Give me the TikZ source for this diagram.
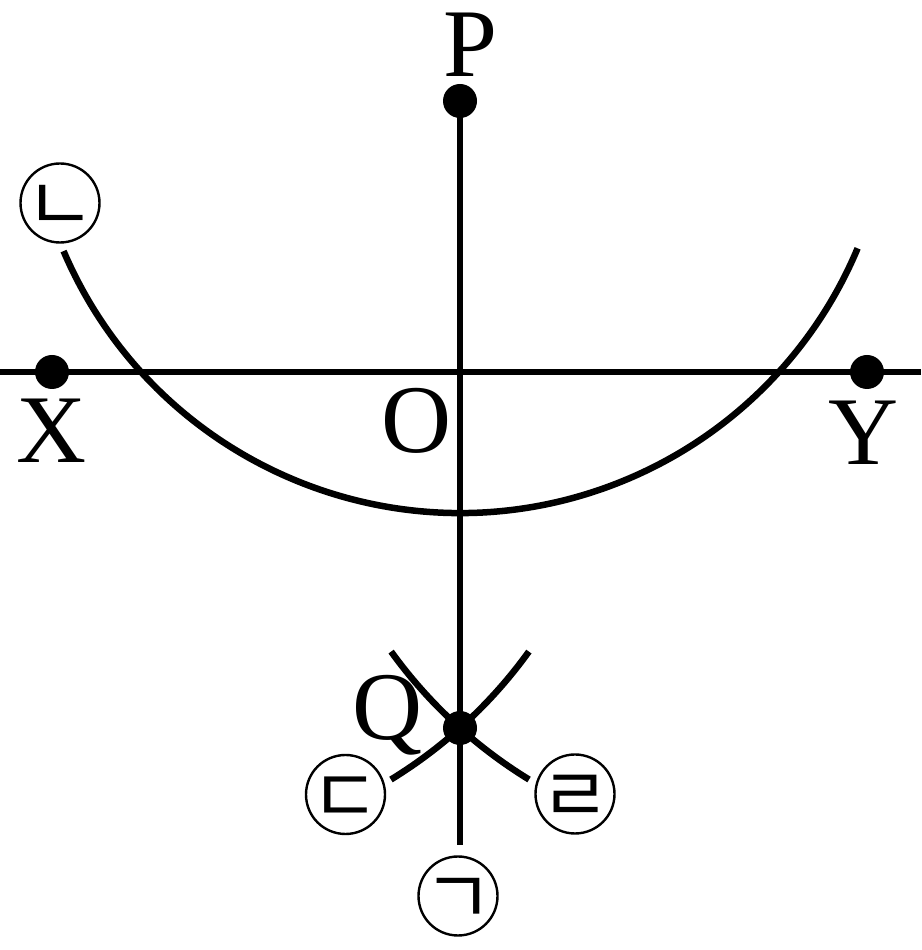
\documentclass[tikz,border=0pt]{standalone}
\usepackage{fontspec}
\setmainfont{Liberation Serif}
\newfontfamily\kor{Noto Sans CJK KR}
\usetikzlibrary{calc}
\newcommand{\jamo}[1]{\makebox[0pt]{\smash{\raisebox{-0.38em}{#1}}}}
\begin{document}
\begin{tikzpicture}[x=1pt,y=1pt,
  line/.style={line width=6.5pt},
  dot/.style={circle,fill=black,minimum size=34pt,inner sep=0pt},
  lbl/.style={anchor=base,inner sep=0pt,font=\fontsize{97}{97}\selectfont},
  circ/.style={circle,draw,line width=2.4pt,minimum size=79pt,inner sep=0pt,font=\kor\fontsize{76}{76}\selectfont}]
\useasboundingbox (0,0) rectangle (921,950);
% points
\coordinate (L) at (0,578);
\coordinate (R) at (921,578);
\coordinate (C) at (460,868);
\coordinate (A) at (141.2,578);
\coordinate (B) at (778.8,578);
\coordinate (bot) at (460,105);
% lines
\draw[line] (L) -- (R);
\draw[line] (460,849) -- (bot);
% big arc centred at C
\draw[line] ($(C)+(203.1:431)$) arc[start angle=203.1,end angle=337.3,radius=431];
% small arcs through Q
\draw[line] ($(A)+(-58.5:478)$) arc[start angle=-58.5,end angle=-35.8,radius=478];
\draw[line] ($(B)+(215.8:478)$) arc[start angle=215.8,end angle=238.5,radius=478];
% dots
\node[dot] (P) at (460,849) {};
\node[dot] (X) at (52,578) {};
\node[dot] (Y) at (867,578) {};
\node[dot] (Q) at (460,222) {};
% labels
\node[lbl] (lP) at (470,873) {P};
\node[lbl] (lX) at (52,487) {X};
\node[lbl] (lY) at (864,485) {Y};
\node[lbl] (lO) at (417,497) {O};
\node[lbl] (lQ) at (388,210) {Q};
% circled letters
\node[circ] (c1) at (458,54) {\jamo{ㄱ}};
\node[circ] (c2) at (60,747) {\jamo{ㄴ}};
\node[circ] (c3) at (345.5,155.5) {\jamo{ㄷ}};
\node[circ] (c4) at (575,156) {\jamo{ㄹ}};
\end{tikzpicture}
\end{document}
